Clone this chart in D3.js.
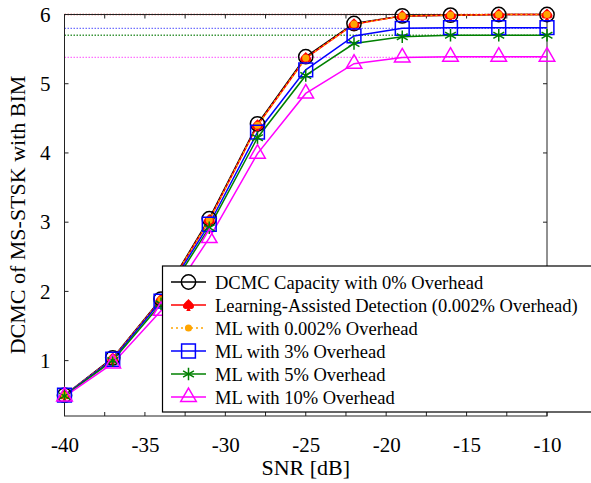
<!DOCTYPE html>
<html>
  <head>
    <meta charset="UTF-8">
    <title>DCMC vs SNR</title>
    <style>
      body { margin: 0; background: #fff; }
      svg text { font-family: "Liberation Serif", "Times New Roman", serif; fill: #000; }
      .tick text { font-size: 21px; }
      .legend text { font-size: 18.5px; }
    </style>
    <script src="https://d3js.org/d3.v7.min.js"></script>
  </head>
  <body>
    <div class="graph1"></div>
    <script>
      // data
      var snr   = [-40, -37, -34, -31, -28, -25, -22, -19, -16, -13, -10];
      var dcmc  = [0.50, 1.04, 1.89, 3.05, 4.42, 5.39, 5.87, 5.98, 5.99, 6.00, 6.00];
      var learn = [0.50, 1.03, 1.88, 3.03, 4.40, 5.37, 5.86, 5.98, 5.99, 6.00, 6.00];
      var ml002 = [0.50, 1.03, 1.88, 3.03, 4.40, 5.37, 5.86, 5.98, 5.99, 6.00, 6.00];
      var ml3   = [0.50, 1.02, 1.86, 2.97, 4.30, 5.20, 5.69, 5.80, 5.81, 5.81, 5.81];
      var ml5   = [0.49, 1.00, 1.82, 2.92, 4.22, 5.12, 5.58, 5.68, 5.70, 5.70, 5.70];
      var ml10  = [0.48, 0.96, 1.72, 2.77, 3.99, 4.86, 5.29, 5.38, 5.39, 5.39, 5.39];
      // dotted capacity limits (6 bits minus overhead)
      var limits = [6.0, 5.80, 5.70, 5.38];
      var limitColors = ["#e04040", "#7070ff", "#3c963c", "#ff70ff"];
      var xTicks = [-40, -35, -30, -25, -20, -15, -10];
      var xMinor = [-37.5, -32.5, -27.5, -22.5, -17.5, -12.5];
      var yTicks = [1, 2, 3, 4, 5, 6];
      var labels = ["DCMC Capacity with 0% Overhead",
                    "Learning-Assisted Detection (0.002% Overhead)",
                    "ML with 0.002% Overhead",
                    "ML with 3% Overhead",
                    "ML with 5% Overhead",
                    "ML with 10% Overhead"];

      var margin = {top: 14.5, right: 44, bottom: 67, left: 64.5};
      var width = 591 - margin.left - margin.right;
      var height = 483 - margin.top - margin.bottom;

      var svgRoot = d3.select(".graph1").append("svg")
        .attr("width", 591)
        .attr("height", 483);
      var svg = svgRoot.append("g")
        .attr("transform", "translate(" + margin.left + "," + margin.top + ")");

      var x = d3.scaleLinear().domain([-40, -10]).range([0, width]);
      var y = d3.scaleLinear().domain([0.2, 6]).range([height, 0]);

      // spade shaped marker for the learning-assisted curve
      var spade = {
        draw: function(ctx, size) {
          var r = Math.sqrt(size) / 2;
          var k = r / 6;
          ctx.moveTo(0, -6 * k);
          ctx.bezierCurveTo(3 * k, -3 * k, 7 * k, 0, 5 * k, 3 * k);
          ctx.bezierCurveTo(3.5 * k, 5 * k, 1 * k, 4 * k, 0.8 * k, 2.5 * k);
          ctx.lineTo(2.2 * k, 6 * k);
          ctx.lineTo(-2.2 * k, 6 * k);
          ctx.lineTo(-0.8 * k, 2.5 * k);
          ctx.bezierCurveTo(-1 * k, 4 * k, -3.5 * k, 5 * k, -5 * k, 3 * k);
          ctx.bezierCurveTo(-7 * k, 0, -3 * k, -3 * k, 0, -6 * k);
          ctx.closePath();
        }
      };

      var series = [
        {name: labels[0], values: dcmc,  color: "#000", dash: null, sym: d3.symbolCircle, size: 160, fill: "none"},
        {name: labels[1], values: learn, color: "#ff0000", dash: null, sym: spade, size: 144, fill: "#ff0000"},
        {name: labels[2], values: ml002, color: "#ffa500", dash: "2,3", sym: d3.symbolCircle, size: 40, fill: "#ffa500"},
        {name: labels[3], values: ml3,   color: "#0000ff", dash: null, sym: d3.symbolSquare, size: 190, fill: "none"},
        {name: labels[4], values: ml5,   color: "#008000", dash: null, sym: d3.symbolAsterisk, size: 110, fill: "none"},
        {name: labels[5], values: ml10,  color: "#ff00ff", dash: null, sym: d3.symbolTriangle, size: 105, fill: "none"}
      ];

      // dotted limit lines
      svg.selectAll(".limit")
          .data(limits)
        .enter().append("line")
          .attr("class", "limit")
          .attr("x1", 0)
          .attr("x2", width)
          .attr("y1", function(d) { return y(d); })
          .attr("y2", function(d) { return y(d); })
          .style("stroke", function(d, i) { return limitColors[i]; })
          .style("stroke-width", 1.4)
          .style("stroke-dasharray", "1.5,1.5");

      // frame
      svg.append("rect")
          .attr("width", width)
          .attr("height", height)
          .style("fill", "none")
          .style("stroke", "#222")
          .style("stroke-width", 1);

      // ticks pointing inward
      var xAll = xTicks.concat(xMinor);
      svg.selectAll(".xt")
          .data(xAll)
        .enter().append("path")
          .attr("d", function(d) {
            return "M" + x(d) + "," + height + "v-4M" + x(d) + ",0v4";
          })
          .style("stroke", "#222");
      svg.selectAll(".yt")
          .data(yTicks)
        .enter().append("path")
          .attr("d", function(d) {
            return "M0," + y(d) + "h4M" + width + "," + y(d) + "h-4";
          })
          .style("stroke", "#222");

      // tick labels
      var xAxis = d3.axisBottom(x).tickValues(xTicks).tickSize(0).tickPadding(21)
          .tickFormat(function(d) { return d; });
      svg.append("g")
          .attr("class", "x axis")
          .attr("transform", "translate(0," + height + ")")
          .call(xAxis)
          .call(function(g) { g.select(".domain").remove(); });

      var yAxis = d3.axisLeft(y).tickValues(yTicks).tickSize(0).tickPadding(14)
          .tickFormat(d3.format("d"));
      svg.append("g")
          .attr("class", "y axis")
          .call(yAxis)
          .call(function(g) { g.select(".domain").remove(); });

      // curves
      var line = d3.line()
          .x(function(d, i) { return x(snr[i]); })
          .y(function(d) { return y(d); });

      series.forEach(function(s) {
        svg.append("path")
            .datum(s.values)
            .attr("d", line)
            .style("fill", "none")
            .style("stroke", s.color)
            .style("stroke-width", 1.5)
            .style("stroke-dasharray", s.dash);
      });

      series.forEach(function(s) {
        var sym = d3.symbol().type(s.sym).size(s.size);
        svg.selectAll(null)
            .data(s.values)
          .enter().append("path")
            .attr("transform", function(d, i) { return "translate(" + x(snr[i]) + "," + y(d) + ")"; })
            .attr("d", sym)
            .style("fill", s.fill)
            .style("stroke", s.fill === "none" ? s.color : "none")
            .style("stroke-width", 1.5);
      });

      // axis titles
      svgRoot.append("text")
          .attr("x", margin.left + width / 2)
          .attr("y", 475)
          .style("text-anchor", "middle")
          .style("font-size", "22px")
          .text("SNR [dB]");

      svgRoot.append("text")
          .attr("transform", "translate(25," + 215 + ") rotate(-90)")
          .style("text-anchor", "middle")
          .style("font-size", "22px")
          .text("DCMC of MS-STSK with BIM");

      // legend
      var legend = svgRoot.append("g").attr("class", "legend");
      legend.append("rect")
          .attr("x", 162.5)
          .attr("y", 266)
          .attr("width", 440)
          .attr("height", 146)
          .style("fill", "#fff")
          .style("stroke", "#000")
          .style("stroke-width", 1.2);

      var rows = legend.selectAll(".row")
          .data(series)
        .enter().append("g")
          .attr("class", "row")
          .attr("transform", function(d, i) { return "translate(0," + (282 + i * 23) + ")"; });

      rows.append("line")
          .attr("x1", 171)
          .attr("x2", 206)
          .style("stroke", function(d) { return d.color; })
          .style("stroke-width", 1.5)
          .style("stroke-dasharray", function(d) { return d.dash; });

      rows.append("path")
          .attr("transform", "translate(188.5,0)")
          .attr("d", function(d) { return d3.symbol().type(d.sym).size(d.size)(); })
          .style("fill", function(d) { return d.fill; })
          .style("stroke", function(d) { return d.fill === "none" ? d.color : "none"; })
          .style("stroke-width", 1.5);

      rows.append("text")
          .attr("x", 215)
          .attr("y", 7)
          .text(function(d) { return d.name; });
    </script>
  </body>
</html>
